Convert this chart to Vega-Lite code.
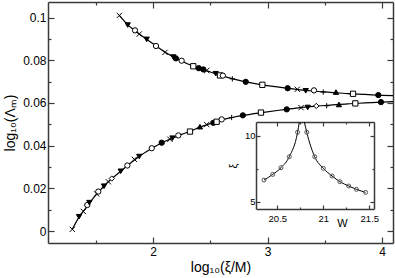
{
  "$schema": "https://vega.github.io/schema/vega-lite/v6.json",
  "width": 345,
  "height": 241,
  "autosize": "none",
  "padding": {"left": 48, "top": 2, "right": 2, "bottom": 35},
  "background": "white",
  "config": {
    "view": {"stroke": null},
    "axis": {
      "grid": false,
      "labelFont": "Liberation Sans",
      "titleFont": "Liberation Sans",
      "labelColor": "black",
      "titleColor": "black",
      "titleFontWeight": "normal",
      "domainColor": "#3a3a3a",
      "tickColor": "#3a3a3a",
      "domainWidth": 1.5,
      "tickWidth": 1.2,
      "format": "~r",
      "labelOverlap": false,
      "labelFlush": false,
      "labelBound": false
    }
  },
  "datasets": {
    "curves": [
      {"branch": "upper", "x": 1.706, "y": 0.1010},
      {"branch": "upper", "x": 1.78, "y": 0.0966},
      {"branch": "upper", "x": 1.85, "y": 0.0935},
      {"branch": "upper", "x": 1.95, "y": 0.0896},
      {"branch": "upper", "x": 2.03, "y": 0.0866},
      {"branch": "upper", "x": 2.1, "y": 0.0840},
      {"branch": "upper", "x": 2.2, "y": 0.0810},
      {"branch": "upper", "x": 2.3, "y": 0.0784},
      {"branch": "upper", "x": 2.4, "y": 0.0763},
      {"branch": "upper", "x": 2.5, "y": 0.0745},
      {"branch": "upper", "x": 2.6, "y": 0.0728},
      {"branch": "upper", "x": 2.7, "y": 0.0713},
      {"branch": "upper", "x": 2.8, "y": 0.0700},
      {"branch": "upper", "x": 2.95, "y": 0.0685},
      {"branch": "upper", "x": 3.1, "y": 0.0674},
      {"branch": "upper", "x": 3.25, "y": 0.0664},
      {"branch": "upper", "x": 3.4, "y": 0.0656},
      {"branch": "upper", "x": 3.55, "y": 0.0650},
      {"branch": "upper", "x": 3.7, "y": 0.0644},
      {"branch": "upper", "x": 3.85, "y": 0.0640},
      {"branch": "upper", "x": 4.0, "y": 0.0636},
      {"branch": "upper", "x": 4.096, "y": 0.0634},
      {"branch": "lower", "x": 1.295, "y": 0.0008},
      {"branch": "lower", "x": 1.35, "y": 0.0062},
      {"branch": "lower", "x": 1.4, "y": 0.0098},
      {"branch": "lower", "x": 1.45, "y": 0.0134},
      {"branch": "lower", "x": 1.5, "y": 0.0168},
      {"branch": "lower", "x": 1.55, "y": 0.0198},
      {"branch": "lower", "x": 1.6, "y": 0.0226},
      {"branch": "lower", "x": 1.65, "y": 0.0250},
      {"branch": "lower", "x": 1.7, "y": 0.0272},
      {"branch": "lower", "x": 1.78, "y": 0.0308},
      {"branch": "lower", "x": 1.85, "y": 0.0338},
      {"branch": "lower", "x": 1.9, "y": 0.0357},
      {"branch": "lower", "x": 2.0, "y": 0.0390},
      {"branch": "lower", "x": 2.08, "y": 0.0414},
      {"branch": "lower", "x": 2.16, "y": 0.0433},
      {"branch": "lower", "x": 2.25, "y": 0.0453},
      {"branch": "lower", "x": 2.33, "y": 0.0469},
      {"branch": "lower", "x": 2.41, "y": 0.0487},
      {"branch": "lower", "x": 2.5, "y": 0.0503},
      {"branch": "lower", "x": 2.6, "y": 0.0521},
      {"branch": "lower", "x": 2.7, "y": 0.0533},
      {"branch": "lower", "x": 2.8, "y": 0.0543},
      {"branch": "lower", "x": 2.95, "y": 0.0555},
      {"branch": "lower", "x": 3.1, "y": 0.0566},
      {"branch": "lower", "x": 3.25, "y": 0.0576},
      {"branch": "lower", "x": 3.4, "y": 0.0584},
      {"branch": "lower", "x": 3.55, "y": 0.0590},
      {"branch": "lower", "x": 3.7, "y": 0.0596},
      {"branch": "lower", "x": 3.85, "y": 0.0600},
      {"branch": "lower", "x": 4.0, "y": 0.0604},
      {"branch": "lower", "x": 4.096, "y": 0.0606}
    ],
    "pts": [
      {"x": 1.706, "y": 0.1010, "m": "x"},
      {"x": 1.779, "y": 0.0965, "m": "tdown"},
      {"x": 1.843, "y": 0.0940, "m": "copen"},
      {"x": 1.880, "y": 0.0923, "m": "x"},
      {"x": 1.945, "y": 0.0898, "m": "tdown"},
      {"x": 2.026, "y": 0.0867, "m": "copen"},
      {"x": 2.105, "y": 0.0837, "m": "x"},
      {"x": 2.177, "y": 0.0815, "m": "tdown"},
      {"x": 2.20, "y": 0.0809, "m": "cfill"},
      {"x": 2.25, "y": 0.0798, "m": "copen"},
      {"x": 2.352, "y": 0.0772, "m": "sopen"},
      {"x": 2.40, "y": 0.0763, "m": "cfill"},
      {"x": 2.44, "y": 0.0757, "m": "cfill"},
      {"x": 2.469, "y": 0.0752, "m": "x"},
      {"x": 2.548, "y": 0.0737, "m": "tdown"},
      {"x": 2.585, "y": 0.0729, "m": "sopen"},
      {"x": 2.61, "y": 0.0728, "m": "copen"},
      {"x": 2.693, "y": 0.0713, "m": "plus"},
      {"x": 2.81, "y": 0.0699, "m": "cfill"},
      {"x": 2.955, "y": 0.0685, "m": "sopen"},
      {"x": 3.176, "y": 0.0669, "m": "cfill"},
      {"x": 3.26, "y": 0.0664, "m": "x"},
      {"x": 3.334, "y": 0.0657, "m": "tdown"},
      {"x": 3.406, "y": 0.0659, "m": "copen"},
      {"x": 3.487, "y": 0.0651, "m": "plus"},
      {"x": 3.598, "y": 0.0651, "m": "tup"},
      {"x": 3.747, "y": 0.0643, "m": "sopen"},
      {"x": 3.968, "y": 0.0637, "m": "cfill"},
      {"x": 1.295, "y": 0.0008, "m": "x"},
      {"x": 1.354, "y": 0.0067, "m": "tdown"},
      {"x": 1.391, "y": 0.0092, "m": "x"},
      {"x": 1.426, "y": 0.0122, "m": "copen"},
      {"x": 1.444, "y": 0.0133, "m": "tdown"},
      {"x": 1.508, "y": 0.0174, "m": "x"},
      {"x": 1.522, "y": 0.0185, "m": "copen"},
      {"x": 1.572, "y": 0.0210, "m": "tdown"},
      {"x": 1.61, "y": 0.0231, "m": "x"},
      {"x": 1.64, "y": 0.0246, "m": "dopen"},
      {"x": 1.718, "y": 0.0280, "m": "tdown"},
      {"x": 1.776, "y": 0.0307, "m": "copen"},
      {"x": 1.837, "y": 0.0336, "m": "x"},
      {"x": 1.88, "y": 0.0349, "m": "tdown"},
      {"x": 1.989, "y": 0.0388, "m": "copen"},
      {"x": 2.076, "y": 0.0414, "m": "cfill"},
      {"x": 2.148, "y": 0.0430, "m": "x"},
      {"x": 2.17, "y": 0.0435, "m": "tdown"},
      {"x": 2.221, "y": 0.0448, "m": "copen"},
      {"x": 2.323, "y": 0.0466, "m": "sopen"},
      {"x": 2.41, "y": 0.0489, "m": "tup"},
      {"x": 2.469, "y": 0.0499, "m": "x"},
      {"x": 2.527, "y": 0.0507, "m": "cfill"},
      {"x": 2.556, "y": 0.0512, "m": "sopen"},
      {"x": 2.60, "y": 0.0523, "m": "copen"},
      {"x": 2.687, "y": 0.0532, "m": "plus"},
      {"x": 2.785, "y": 0.0542, "m": "cfill"},
      {"x": 2.943, "y": 0.0555, "m": "sopen"},
      {"x": 3.168, "y": 0.0570, "m": "cfill"},
      {"x": 3.293, "y": 0.0578, "m": "x"},
      {"x": 3.351, "y": 0.0579, "m": "tdown"},
      {"x": 3.426, "y": 0.0586, "m": "dopen"},
      {"x": 3.517, "y": 0.0587, "m": "plus"},
      {"x": 3.624, "y": 0.0593, "m": "tup"},
      {"x": 3.767, "y": 0.0598, "m": "sopen"},
      {"x": 3.991, "y": 0.0604, "m": "cfill"}
    ],
    "inset": [
      {"W": 20.355, "xi": 6.64},
      {"W": 20.45, "xi": 7.07},
      {"W": 20.54, "xi": 7.58},
      {"W": 20.63, "xi": 8.41},
      {"W": 20.72, "xi": 10.26},
      {"W": 20.82, "xi": 10.26},
      {"W": 20.906, "xi": 8.41},
      {"W": 21.0, "xi": 7.53},
      {"W": 21.095, "xi": 6.95},
      {"W": 21.18, "xi": 6.52},
      {"W": 21.276, "xi": 6.19},
      {"W": 21.36, "xi": 5.94},
      {"W": 21.46, "xi": 5.71}
    ],
    "insetCurve": [
      {"side": "L", "W": 20.355, "xi": 6.64},
      {"side": "L", "W": 20.45, "xi": 7.07},
      {"side": "L", "W": 20.54, "xi": 7.58},
      {"side": "L", "W": 20.63, "xi": 8.41},
      {"side": "L", "W": 20.72, "xi": 10.26},
      {"side": "L", "W": 20.739, "xi": 11.04},
      {"side": "R", "W": 20.794, "xi": 11.04},
      {"side": "R", "W": 20.82, "xi": 10.26},
      {"side": "R", "W": 20.906, "xi": 8.41},
      {"side": "R", "W": 21.0, "xi": 7.53},
      {"side": "R", "W": 21.095, "xi": 6.95},
      {"side": "R", "W": 21.18, "xi": 6.52},
      {"side": "R", "W": 21.276, "xi": 6.19},
      {"side": "R", "W": 21.36, "xi": 5.94},
      {"side": "R", "W": 21.46, "xi": 5.71}
    ]
  },
  "resolve": {
    "scale": {"x": "independent", "y": "independent"},
    "axis": {"x": "independent", "y": "independent"}
  },
  "layer": [
    {
      "data": {"name": "curves"},
      "mark": {"type": "line", "color": "black", "strokeWidth": 1.2, "interpolate": "monotone"},
      "encoding": {
        "detail": {"field": "branch"},
        "x": {"field": "x", "type": "quantitative",
          "scale": {"domain": [1.083, 4.096], "nice": false, "zero": false},
          "axis": {"orient": "bottom", "values": [2, 3, 4], "tickSize": -6, "labelPadding": 9.5, "labelFontSize": 12,
            "title": "log₁₀(ξ/M)", "titleFontSize": 14, "titlePadding": 3}},
        "y": {"field": "y", "type": "quantitative",
          "scale": {"domain": [-0.0056, 0.1073], "nice": false, "zero": false},
          "axis": {"orient": "left", "values": [0, 0.02, 0.04, 0.06, 0.08, 0.1], "tickSize": -6, "labelPadding": 8, "labelFontSize": 12,
            "title": "log₁₀(Λₘ)", "titleFontSize": 14, "titlePadding": 5}}
      }
    },
    {
      "data": {"name": "pts"},
      "mark": {"type": "point", "filled": true, "stroke": "black", "strokeWidth": 1, "size": 28, "opacity": 1},
      "encoding": {
        "x": {"field": "x", "type": "quantitative",
          "scale": {"domain": [1.083, 4.096], "nice": false, "zero": false},
          "axis": {"orient": "bottom", "values": [1.5, 2.5, 3.5], "tickSize": -3, "labels": false, "domain": false, "title": null}},
        "y": {"field": "y", "type": "quantitative",
          "scale": {"domain": [-0.0056, 0.1073], "nice": false, "zero": false},
          "axis": {"orient": "left", "values": [0.01, 0.03, 0.05, 0.07, 0.09], "tickSize": -3, "labels": false, "domain": false, "title": null}},
        "shape": {"field": "m", "type": "nominal", "legend": null,
          "scale": {"domain": ["x", "tdown", "copen", "dopen", "cfill", "sopen", "plus", "tup"],
            "range": ["M-1,-1L1,1M-1,1L1,-1", "triangle-down", "circle", "diamond", "circle", "square", "M-1,0L1,0M0,-1L0,1", "triangle-up"]}},
        "fill": {"field": "m", "type": "nominal", "legend": null,
          "scale": {"domain": ["x", "tdown", "copen", "dopen", "cfill", "sopen", "plus", "tup"],
            "range": ["black", "black", "white", "white", "black", "white", "black", "black"]}}
      }
    },
    {
      "data": {"name": "curves"},
      "mark": {"type": "point", "opacity": 0},
      "encoding": {
        "x": {"field": "x", "type": "quantitative",
          "scale": {"domain": [1.083, 4.096], "nice": false, "zero": false},
          "axis": {"orient": "top", "values": [2, 3, 4], "tickSize": -6, "labels": false, "title": null}},
        "y": {"field": "y", "type": "quantitative",
          "scale": {"domain": [-0.0056, 0.1073], "nice": false, "zero": false},
          "axis": {"orient": "right", "values": [0, 0.02, 0.04, 0.06, 0.08, 0.1], "tickSize": -6, "labels": false, "title": null}}
      }
    },
    {
      "data": {"name": "curves"},
      "mark": {"type": "point", "opacity": 0},
      "encoding": {
        "x": {"field": "x", "type": "quantitative",
          "scale": {"domain": [1.083, 4.096], "nice": false, "zero": false},
          "axis": {"orient": "top", "values": [1.5, 2.5, 3.5], "tickSize": -3, "labels": false, "domain": false, "title": null}},
        "y": {"field": "y", "type": "quantitative",
          "scale": {"domain": [-0.0056, 0.1073], "nice": false, "zero": false},
          "axis": {"orient": "right", "values": [0.01, 0.03, 0.05, 0.07, 0.09], "tickSize": -3, "labels": false, "domain": false, "title": null}}
      }
    },
    {
      "data": {"name": "insetCurve"},
      "mark": {"type": "line", "color": "black", "strokeWidth": 1, "interpolate": "monotone"},
      "encoding": {
        "detail": {"field": "side"},
        "x": {"field": "W", "type": "quantitative",
          "scale": {"domain": [20.268, 21.551], "range": [208, 326], "nice": false, "zero": false},
          "axis": {"orient": "bottom", "offset": -34, "values": [20.5, 21, 21.5], "tickSize": -4, "labelPadding": 8, "labelFontSize": 9.5,
            "title": "W", "titleFontSize": 11, "titleX": 294, "titleY": 14.5, "titleBaseline": "middle", "titleAlign": "center"}},
        "y": {"field": "xi", "type": "quantitative",
          "scale": {"domain": [4.45, 11.04], "range": [207, 120], "nice": false, "zero": false},
          "axis": {"orient": "left", "offset": -208, "values": [5, 10], "tickSize": -4, "labelPadding": 5, "labelFontSize": 9.5,
            "title": "ξ", "titleFontSize": 11, "titlePadding": 6}}
      }
    },
    {
      "data": {"name": "inset"},
      "mark": {"type": "point", "filled": false, "stroke": "#555", "strokeWidth": 1, "size": 16, "opacity": 1},
      "encoding": {
        "x": {"field": "W", "type": "quantitative",
          "scale": {"domain": [20.268, 21.551], "range": [208, 326], "nice": false, "zero": false},
          "axis": {"orient": "bottom", "offset": -34, "values": [20.75, 21.25], "tickSize": -2, "labels": false, "domain": false, "title": null}},
        "y": {"field": "xi", "type": "quantitative",
          "scale": {"domain": [4.45, 11.04], "range": [207, 120], "nice": false, "zero": false},
          "axis": {"orient": "left", "offset": -208, "values": [7.5], "tickSize": -2, "labels": false, "domain": false, "title": null}}
      }
    },
    {
      "data": {"name": "inset"},
      "mark": {"type": "point", "opacity": 0},
      "encoding": {
        "x": {"field": "W", "type": "quantitative",
          "scale": {"domain": [20.268, 21.551], "range": [208, 326], "nice": false, "zero": false},
          "axis": {"orient": "top", "offset": -120, "values": [20.5, 21, 21.5], "tickSize": -4, "labels": false, "title": null}},
        "y": {"field": "xi", "type": "quantitative",
          "scale": {"domain": [4.45, 11.04], "range": [207, 120], "nice": false, "zero": false},
          "axis": {"orient": "right", "offset": -19, "values": [5, 10], "tickSize": -4, "labels": false, "title": null}}
      }
    },
    {
      "data": {"name": "inset"},
      "mark": {"type": "point", "opacity": 0},
      "encoding": {
        "x": {"field": "W", "type": "quantitative",
          "scale": {"domain": [20.268, 21.551], "range": [208, 326], "nice": false, "zero": false},
          "axis": {"orient": "top", "offset": -120, "values": [20.75, 21.25], "tickSize": -2, "labels": false, "domain": false, "title": null}},
        "y": {"field": "xi", "type": "quantitative",
          "scale": {"domain": [4.45, 11.04], "range": [207, 120], "nice": false, "zero": false},
          "axis": {"orient": "right", "offset": -19, "values": [7.5], "tickSize": -2, "labels": false, "domain": false, "title": null}}
      }
    }
  ]
}
